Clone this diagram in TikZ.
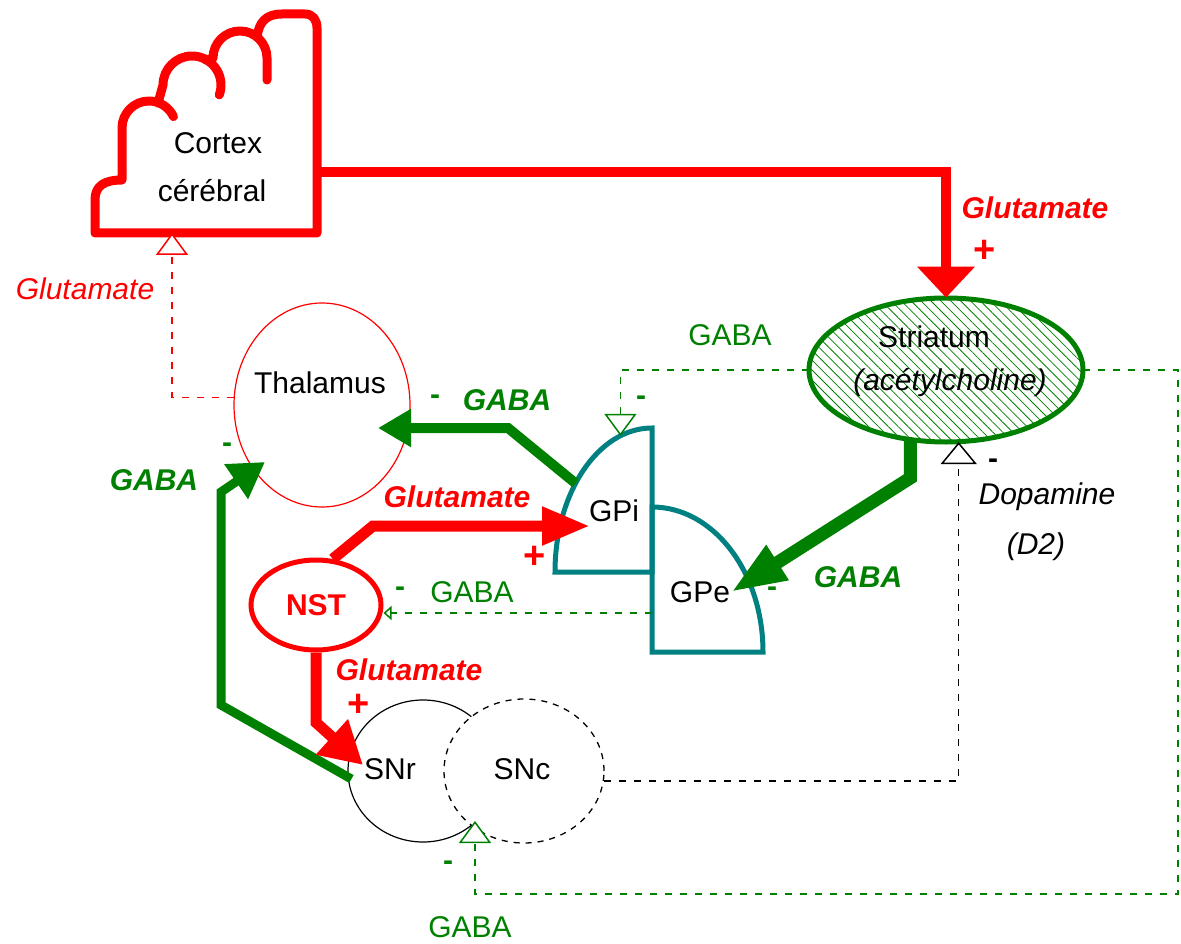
\documentclass[tikz,border=0pt]{standalone}
\usepackage{fontspec}
\setmainfont{Liberation Sans}
\usetikzlibrary{arrows.meta,positioning,calc,shapes.geometric,patterns.meta}
\definecolor{glured}{RGB}{255,0,0}
\definecolor{gabagreen}{RGB}{0,128,0}
\definecolor{gpteal}{RGB}{0,128,128}
\begin{document}
\begin{tikzpicture}[x=1pt,y=1pt,
  txt/.style={inner sep=1pt,font=\fontsize{30}{36}\selectfont},
  itxt/.style={txt,font=\fontsize{30}{36}\selectfont\itshape},
  glulbl/.style={txt,text=glured,font=\fontsize{30}{36}\selectfont\bfseries\itshape},
  gabalbl/.style={txt,text=gabagreen,font=\fontsize{30}{36}\selectfont\bfseries\itshape},
  gabatxt/.style={txt,text=gabagreen},
  sgnred/.style={inner sep=0pt,text=glured,font=\fontsize{38}{40}\selectfont\bfseries},
  sgngreen/.style={txt,text=gabagreen,font=\fontsize{30}{36}\selectfont\bfseries},
  sgnblack/.style={txt,font=\fontsize{30}{36}\selectfont\bfseries},
  ctxline/.style={draw=glured,line width=9pt,line cap=round,line join=round},
  gpline/.style={draw=gpteal,line width=5pt},
  redarr/.style={draw=glured,line width=10pt},
  greenarr/.style={draw=gabagreen,line width=10pt},
  dashglu/.style={draw=glured,line width=1.5pt,dash pattern=on 7pt off 8pt,-{Triangle[length=22pt,width=32pt,fill=white]}},
  dashgaba/.style={draw=gabagreen,line width=1.5pt,dash pattern=on 7pt off 8pt,-{Triangle[length=22pt,width=32pt,fill=white]}},
  dashdopa/.style={draw=black,line width=1.5pt,dash pattern=on 7pt off 8pt,-{Triangle[length=22pt,width=36pt,fill=white]}},
  region/.style={ellipse,inner sep=0pt}]
\useasboundingbox (0,0) rectangle (1181,-944);
\draw[ctxline] (257,-37) .. controls (259,-22) and (266,-14) .. (282,-14) -- (305,-14) .. controls (313,-14) and (317,-20) .. (317,-28) -- (317,-233) -- (95,-233) -- (95,-200) .. controls (95,-186) and (104,-180) .. (122,-180) -- (122,-128) arc[start angle=180,end angle=25,radius=27pt];
\draw[ctxline] (158,-103) -- (163,-85) arc[start angle=180,end angle=-20,radius=29pt];
\draw[ctxline] (206,-60) -- (213,-58) arc[start angle=180,end angle=0,radius=27pt] -- (267,-80);
\node[txt] (ctxtxt1) at (218,-143) {Cortex};\node[txt] (ctxtxt2) at (212,-191) {cérébral};
\node[region,draw=glured,line width=1.2pt,minimum width=176pt,minimum height=204pt] (thal) at (322,-405) {};
\node[txt] (thaltxt) at (320,-383) {Thalamus};
\node[region,draw=gabagreen,line width=5pt,pattern={Lines[angle=-45,distance=7pt,line width=0.8pt]},pattern color=gabagreen,minimum width=274pt,minimum height=144pt] (stri) at (946,-370) {};
\node[txt] (stritxt) at (934,-337) {Striatum};\node[itxt] (achtxt) at (950,-383) {(acétylcholine)};
\node[region,draw=glured,line width=5pt,minimum width=130pt,minimum height=90pt,text=glured,font=\fontsize{30}{36}\selectfont\bfseries] (nst) at (316,-605) {NST};
\node[region,draw=black,line width=1.2pt,minimum width=150pt,minimum height=142pt] (snr) at (423,-771) {};
\node[region,draw=black,line width=1.3pt,dash pattern=on 6pt off 6pt,fill=white,minimum width=160pt,minimum height=144pt] (snc) at (524,-771) {};
\node[txt] (snrtxt) at (390,-769) {SNr};\node[txt] (snctxt) at (522,-769) {SNc};
\coordinate (gpiO) at (652,-572);\coordinate (gpeO) at (652,-652);
\draw[gpline] (gpiO) ++(0,144) arc[start angle=90,end angle=180,x radius=97pt,y radius=144pt] -- (gpiO) -- cycle;
\draw[gpline] (gpeO) ++(0,145) arc[start angle=90,end angle=0,x radius=111pt,y radius=145pt] -- (gpeO) -- cycle;
\node[txt] (gpi) at (614,-511) {GPi};\node[txt] (gpe) at (700,-592) {GPe};
\coordinate (ctxE) at (317,-172);\coordinate (ctxS) at (172,-233);
\coordinate (gpiA) at ($(gpiO)+(142:97pt and 144pt)$);\coordinate (gpiT) at ($(gpiO)+(109:97pt and 144pt)$);
\coordinate (gpiTip) at (590,-526);\coordinate (gpeW) at (652,-613);
\coordinate (thalE) at ($(thal.center)+(56,-23)$);\coordinate (thalSW) at ($(thal.center)+(-57,-57)$);
\coordinate (snrB) at ($(snr.center)+(52,-50)$);\coordinate (snrTip) at ($(snr.center)+(-60,6)$);
\coordinate (rb) at (1178,-894);
\draw[redarr,-{Triangle[length=31pt,width=56pt]}] (ctxE) -| (stri.north);
\draw[greenarr,-{Triangle[length=33pt,width=36pt]}] (gpiA) -- ($(thalE)+(130,0)$) -- (thalE);
\draw[greenarr,line width=9pt,-{Triangle[length=35pt,width=40pt]}] ($(snr.west)+(4,-8)$) -- (221,-705) -- (221,-492) -- (thalSW);
\draw[redarr,line width=11pt,-{Triangle[length=48pt,width=36pt]}] (nst.70) -- (373,-526) -- (gpiTip);
\draw[redarr,line width=11pt,-{Triangle[length=42pt,width=45pt]}] (nst.south) -- ++(0,-70) -- (snrTip);
\draw[greenarr,line width=13pt,-{Triangle[length=55pt,width=38pt]}] (stri.243) -- ++(0,-38) -- (gpe.east);
\draw[dashglu] (thal.175) -| (ctxS);
\draw[dashgaba] (stri.west) -| (gpiT);
\draw[dashgaba,-{Triangle[length=8pt,width=14pt,fill=white]}] (gpeW) -- (gpeW -| nst.east);
\draw[dashdopa] (snc.-7) -| (stri.-80);
\draw[dashgaba] (stri.east) -| (rb) -| (snrB);
\node[glulbl] (glu1) at (1035,-208) {Glutamate};\node[sgnred] (pl1) at (985,-251) {+};
\node[gabatxt] (gaba1) at (730,-335) {GABA};\node[sgngreen] (mi1) at (641,-401) {-};
\node[itxt,text=glured] (glu2) at (85,-289) {Glutamate};
\node[sgngreen] (mi2) at (435,-400) {-};\node[gabalbl] (gaba2) at (507,-400) {GABA};
\node[gabalbl] (gaba3) at (154,-480) {GABA};\node[sgngreen] (mi3) at (227,-448) {-};
\node[glulbl] (glu3) at (457,-497) {Glutamate};\node[sgnred] (pl3) at (535,-557) {+};
\node[sgngreen] (mi4) at (400,-592) {-};\node[gabatxt] (gaba4) at (472,-592) {GABA};
\node[glulbl,inner sep=0pt] (glu4) at (409,-670) {Glutamate};\node[sgnred] (pl4) at (359,-705) {+};
\node[gabalbl] (gaba5) at (858,-577) {GABA};\node[sgngreen] (mi5) at (772,-592) {-};
\node[itxt] (dopatxt) at (1047,-497) {Dopamine};\node[itxt] (d2txt) at (1036,-547) {(D2)};\node[sgnblack] (mi6) at (993,-464) {-};
\node[gabatxt] (gaba6) at (470,-927) {GABA};\node[sgngreen] (mi7) at (448,-866) {-};
\end{tikzpicture}
\end{document}
